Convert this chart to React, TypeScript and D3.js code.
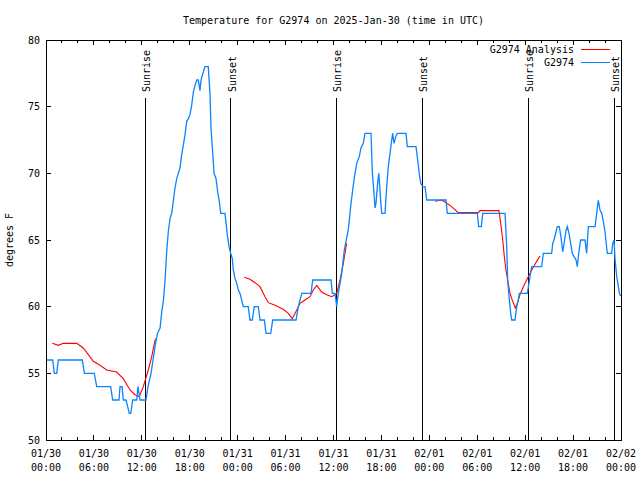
import React from "react";
import * as d3 from "d3";

// hours since 2025-01-30 00:00 UTC, degrees F
const observed: [number, number][] = [
  [0.09,56],[0.84,56],[1.04,55],[1.34,55],[1.54,56],[4.55,56],[4.80,55],[6.05,55],[6.35,54],[8.10,54],[8.35,53],[9.14,53],[9.27,54],[9.52,54],[9.68,53],[10.02,53],[10.43,52],[10.61,52],[10.86,53],[11.36,53],[11.52,54],[11.77,53],[12.52,53],
  [12.77,54],[13.15,55],[13.40,56],[13.65,57],[13.96,58],[14.28,58.4],[14.49,59.6],[14.69,60.4],[14.90,61.9],[15.11,64.1],[15.31,65.6],[15.53,66.6],[15.74,67],[15.94,67.9],[16.15,68.9],[16.37,69.6],[16.57,70],[16.78,70.4],[16.99,71.4],[17.19,72.1],[17.41,72.9],[17.62,73.9],[17.82,74.1],[18.03,74.4],[18.24,75.1],[18.45,76.1],[18.66,76.6],[18.87,77],[19.07,77],[19.28,76.2],[19.41,77],[19.70,77.6],[19.91,78],[20.32,78],[20.54,75.9],[20.66,73.4],[20.87,71.6],[21.04,70],[21.29,69.6],[21.50,68.6],[21.70,67.9],[21.88,67],[22.41,67],[22.54,66.3],[22.70,65.4],[22.92,64.5],[23.13,64],[23.33,63.6],[23.45,62.75],[23.67,62.1],[23.88,61.75],[24.08,61.25],[24.29,61],[24.71,60],[25.33,60],[25.54,59],[25.83,59],[26.08,60],[26.58,60],[26.80,59],[27.34,59],[27.55,58],[28.14,58],[28.39,59],[31.31,59],[31.59,60],[32.02,61],[33.18,61],[33.40,62],[35.69,62],[35.85,61],[36.19,61],[36.40,60],[36.60,61],[37.03,62.5],[37.35,64.25],[37.85,65.75],[38.15,67.5],[38.40,68.75],[38.69,70],[38.91,70.75],[39.23,71.25],[39.44,71.9],[39.73,72.25],[39.94,73],[40.70,73],[40.86,70.1],[41.07,68.5],[41.20,67.4],[41.32,67.75],[41.49,69],[41.66,70],[41.79,69],[41.91,67.9],[42.04,67],[42.45,67],[42.66,69],[42.86,70.5],[43.08,71.5],[43.29,72.5],[43.41,73],[43.58,72.25],[43.79,72.75],[43.99,73],[45.08,73],[45.24,72],[46.33,72],[46.49,71.25],[46.74,70],[46.92,69.25],[47.17,69],[47.46,69],[47.67,68],[50.09,68],[50.25,67],[54.01,67],[54.18,66],[54.51,66],[54.69,67],[57.48,67],[57.69,64.5],[57.81,62],[57.98,60.75],[58.19,59.5],[58.32,59],[58.73,59],[58.94,60],[59.14,60.5],[59.27,61],[60.27,61],[60.61,62.25],[60.82,63],[62.07,63],[62.27,64],[63.32,64],[63.45,64.75],[63.61,65],[63.86,65.6],[64.02,66],[64.27,66],[64.49,65.2],[64.70,64.1],[64.86,64.7],[65.11,65.7],[65.28,66],[65.49,65.5],[65.70,64.75],[65.90,64],[66.12,63.75],[66.37,63.5],[66.53,63],[66.70,64],[66.95,65],[67.49,65],[67.70,64],[67.91,66],[68.75,66],[68.96,67],[69.16,68],[69.37,67.25],[69.58,67],[69.79,66.4],[70.00,65.6],[70.21,64.4],[70.29,64],[70.84,64],[70.96,64.75],[71.13,65],[71.26,63.5],[71.47,62.25],[71.67,61.5],[71.80,61],[71.95,60.8],
];

const analysisNight1: [number, number][] = [
  [0.79,57.25],[1.54,57.1],[2.17,57.25],[3.84,57.25],[4.67,56.9],[5.30,56.4],[5.92,55.9],[6.76,55.6],[7.60,55.25],[8.85,55.1],[9.68,54.6],[10.52,53.75],[11.14,53.4],[11.68,53.25],[12.18,54],[12.81,55.25],[13.24,56.25],[13.65,57.5],[13.86,57.6],
];
const analysisNight2: [number, number][] = [
  [24.83,62.2],[25.54,62.05],[26.17,61.8],[26.80,61.5],[27.42,60.75],[27.84,60.3],[28.68,60.1],[29.71,59.8],[30.34,59.5],[30.84,59.1],[31.27,59.6],[31.81,60.25],[32.43,60.5],[33.06,60.75],[33.47,61.25],[33.90,61.6],[34.52,61.1],[35.15,60.9],[35.78,60.75],[36.40,61],[36.82,62],[37.23,63.25],[37.65,64.75],
];
const analysisNight3: [number, number][] = [
  [48.71,67.9],[49.55,68],[50.18,67.75],[50.80,67.5],[51.63,67.05],[54.13,67.05],[54.35,67.2],[56.72,67.2],[56.94,66.25],[57.19,65],[57.39,63.75],[57.60,62.75],[57.81,62],[58.10,61],[58.44,60.4],[58.77,59.9],[59.02,60.25],[59.35,60.9],[59.77,61.5],[60.19,62],[60.82,62.75],[61.44,63.4],[61.86,63.8],
];

const sunTimes = [12.43, 23.12, 36.35, 47.12, 60.40, 71.16];
const sunLabels = ["Sunrise", "Sunset", "Sunrise", "Sunset", "Sunrise", "Sunset"];

const xTickHours = [0, 6, 12, 18, 24, 30, 36, 42, 48, 54, 60, 66, 72];
const xTickDates = ["01/30","01/30","01/30","01/30","01/31","01/31","01/31","01/31","02/01","02/01","02/01","02/01","02/02"];
const xTickTimes = ["00:00","06:00","12:00","18:00","00:00","06:00","12:00","18:00","00:00","06:00","12:00","18:00","00:00"];
const yTicks = [50, 55, 60, 65, 70, 75, 80];

const title = "Temperature for G2974 on 2025-Jan-30 (time in UTC)";
const yTitle = "degrees F";
const legendNames = ["G2974 Analysis", "G2974"];

const FONT = "'DejaVu Sans Mono', 'Liberation Mono', monospace";
const RED = "#ff0000";
const BLUE = "#0a84ff";

export default function App() {
  const L = 46, R = 621, T = 40, B = 440;
  const x = d3.scaleLinear().domain([0, 72]).range([L, R]);
  const y = d3.scaleLinear().domain([50, 80]).range([B, T]);
  const line = d3.line<[number, number]>().x(d => x(d[0])).y(d => y(d[1]));
  const minor = d3.range(0, 73, 2).filter(h => h % 6 !== 0);

  return (
    <svg width={640} height={480} style={{ position: "absolute", left: 0, top: 0, background: "#fff" }}
      fontFamily={FONT} fontSize={10}>
      <rect x={0} y={0} width={640} height={480} fill="#fff" />
      <text x={(L + R) / 2} y={24} textAnchor="middle">{title}</text>
      <g stroke="#000" strokeWidth={1} shapeRendering="crispEdges">
        {xTickHours.map(h => (
          <g key={"M" + h}>
            <line x1={x(h)} x2={x(h)} y1={B} y2={B - 5} />
            <line x1={x(h)} x2={x(h)} y1={T} y2={T + 5} />
          </g>
        ))}
        {minor.map(h => (
          <g key={"m" + h}>
            <line x1={x(h)} x2={x(h)} y1={B} y2={B - 3} />
            <line x1={x(h)} x2={x(h)} y1={T} y2={T + 3} />
          </g>
        ))}
        {yTicks.map(v => (
          <g key={"y" + v}>
            <line x1={L} x2={L + 5} y1={y(v)} y2={y(v)} />
            <line x1={R} x2={R - 5} y1={y(v)} y2={y(v)} />
          </g>
        ))}
        {sunTimes.map((t, i) => (
          <line key={"s" + i} x1={x(t)} x2={x(t)} y1={98} y2={B} />
        ))}
      </g>
      {yTicks.map(v => (
        <text key={"yl" + v} x={40} y={y(v) + 3.5} textAnchor="end">{v}</text>
      ))}
      {xTickHours.map((h, i) => (
        <g key={"xl" + h}>
          <text x={x(h)} y={457} textAnchor="middle">{xTickDates[i]}</text>
          <text x={x(h)} y={471} textAnchor="middle">{xTickTimes[i]}</text>
        </g>
      ))}
      <text transform={`translate(13,240) rotate(-90)`} textAnchor="middle">{yTitle}</text>
      {sunTimes.map((t, i) => (
        <text key={"sl" + i} transform={`translate(${x(t) + 5},92) rotate(-90)`} textAnchor="start">{sunLabels[i]}</text>
      ))}
      {[analysisNight1, analysisNight2, analysisNight3].map((seg, i) => (
        <path key={"a" + i} d={line(seg) || ""} fill="none" stroke={RED} strokeWidth={1.1} />
      ))}
      <path d={line(observed) || ""} fill="none" stroke={BLUE} strokeWidth={1.3} />
      <text x={574} y={53} textAnchor="end">{legendNames[0]}</text>
      <line x1={581} x2={610} y1={49.5} y2={49.5} stroke={RED} strokeWidth={1} shapeRendering="crispEdges" />
      <text x={574} y={66} textAnchor="end">{legendNames[1]}</text>
      <line x1={581} x2={610} y1={62.5} y2={62.5} stroke={BLUE} strokeWidth={1.3} shapeRendering="crispEdges" />
      <rect x={L} y={T} width={R - L} height={B - T} fill="none" stroke="#000" strokeWidth={1} shapeRendering="crispEdges" />
    </svg>
  );
}
